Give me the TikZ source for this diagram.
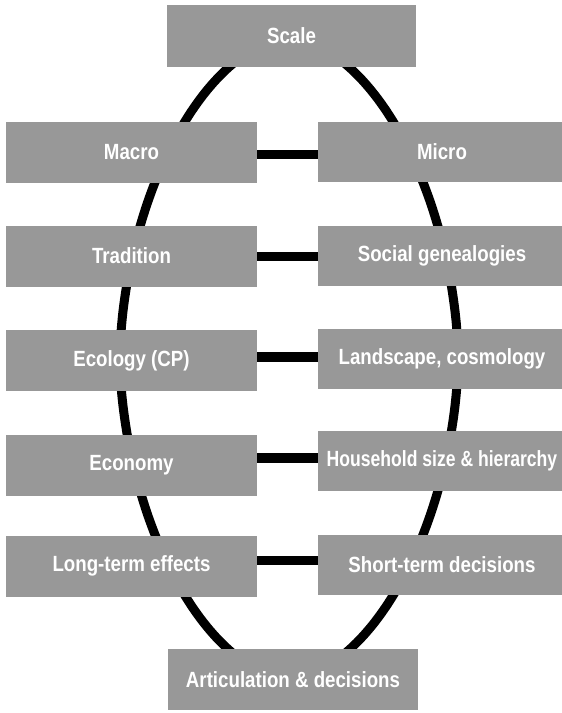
\documentclass[tikz,border=0pt]{standalone}
\usepackage{fontspec}
\newfontfamily\boxfont[FakeStretch=0.85]{Liberation Sans Bold}
\definecolor{boxgray}{RGB}{152,152,152}
\tikzset{
  box/.style={rectangle, fill=boxgray, draw=none, inner sep=0pt,
    text=white, font=\boxfont\fontsize{22}{26}\selectfont, align=center},
  lbox/.style={box, minimum width=251pt, minimum height=61pt},
  rbox/.style={box, minimum width=248pt, minimum height=60pt},
  bar/.style={line width=9.5pt, black},
  ring/.style={line width=9pt, black}
}
\begin{document}
\begin{tikzpicture}[x=1pt,y=-1pt]
\useasboundingbox (0,0) rectangle (562,713);
% oval behind boxes
\draw[ring] plot[smooth cycle, domain=1:358, samples=120, variable=\t]
  ({289+169*sign(cos(\t))*pow(abs(cos(\t)),1.1111)},
   {358.5+320*sign(sin(\t))*pow(abs(sin(\t)),1.1111)});
% boxes
\node[box, minimum width=249pt, minimum height=62pt] (scale) at (291.5,36) {Scale};
\node[lbox] (macro) at (131.5,152) {Macro};
\node[rbox] (micro) at (442,151.5) {Micro};
\node[lbox] (trad) at (131.5,256) {Tradition};
\node[rbox] (social) at (442,255.5) {Social genealogies};
\node[lbox] (eco) at (131.5,360.5) {Ecology (CP)};
\node[rbox] (land) at (442,359) {Landscape, cosmology};
\node[lbox] (econ) at (131.5,465.5) {Economy};
\node[rbox] (house) at (442,461) {\scalebox{0.94}[1]{Household size \& hierarchy}};
\node[lbox] (long) at (131.5,566) {Long-term effects};
\node[rbox] (short) at (442,565) {Short-term decisions};
\node[box, minimum width=250pt, minimum height=61pt] (art) at (293,679.5) {Articulation \& decisions};
% horizontal links
\coordinate (b1) at ([yshift=-2.5pt]macro.east);
\coordinate (b2) at ([yshift=-0.5pt]trad.east);
\coordinate (b3) at ([yshift=3.5pt]eco.east);
\coordinate (b4) at ([yshift=7.5pt]econ.east);
\coordinate (b5) at ([yshift=5.5pt]long.east);
\draw[bar] (b1) -- (b1 -| micro.west);
\draw[bar] (b2) -- (b2 -| social.west);
\draw[bar] (b3) -- (b3 -| land.west);
\draw[bar] (b4) -- (b4 -| house.west);
\draw[bar] (b5) -- (b5 -| short.west);
\end{tikzpicture}
\end{document}
